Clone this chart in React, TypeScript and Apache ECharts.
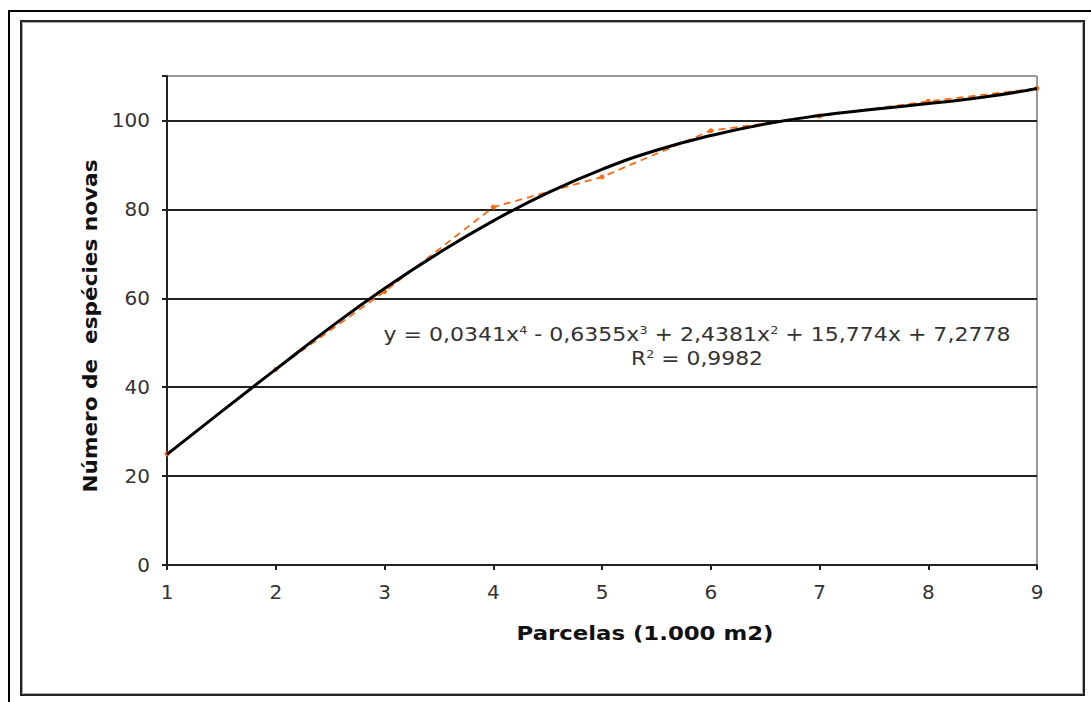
import React, { useEffect, useRef } from "react";
import * as echarts from "echarts";

const parcelas = [1, 2, 3, 4, 5, 6, 7, 8, 9];
const especies = [25, 44, 61.5, 80.5, 87.3, 97.7, 101, 104.3, 107.2];

// Trend curve (black polynomial line)
const trendX = [1, 1.5, 2, 2.5, 3, 3.5, 4, 4.5, 5, 5.5, 6, 6.5, 7, 7.5, 8, 8.5, 9];
const trendY = [24.9, 34.5, 44.0, 53.4, 62.2, 70.2, 77.4, 83.7, 89.0, 93.3, 96.6, 99.2, 101.1, 102.5, 103.8, 105.2, 107.2];

const yTicks = [0, 20, 40, 60, 80, 100];
const xTitle = "Parcelas (1.000 m2)";
const yTitle = "Número de  espécies novas";

export default function App() {
  const ref = useRef<HTMLDivElement>(null);
  useEffect(() => {
    if (!ref.current) return;
    const chart = echarts.init(ref.current, null, { renderer: "svg" });
    const font = "DejaVu Sans, Verdana, sans-serif";
    chart.setOption({
      animation: false,
      backgroundColor: "#ffffff",
      grid: { left: 167, top: 76, right: 54, bottom: 137, show: false },
      xAxis: {
        type: "value",
        min: 1,
        max: 9,
        interval: 1,
        axisLine: { show: true, lineStyle: { color: "#222", width: 2 } },
        axisTick: { show: true, length: 5, lineStyle: { color: "#222", width: 2 } },
        axisLabel: { margin: 17, fontSize: 20, color: "#333", fontFamily: font },
        splitLine: { show: false },
      },
      yAxis: {
        type: "value",
        min: 0,
        max: 110,
        interval: 20,
        axisLine: { show: true, lineStyle: { color: "#222", width: 2 } },
        axisTick: { show: true, length: 5, lineStyle: { color: "#222", width: 2 } },
        axisLabel: {
          margin: 17,
          fontSize: 20,
          color: "#333",
          fontFamily: font,
          formatter: (v: number) => (yTicks.indexOf(v) >= 0 ? String(v) : ""),
        },
        splitLine: {
          show: true,
          lineStyle: {
            color: ["#222", "#222", "#222", "#222", "#222", "#222", "#999"],
            width: 2,
          },
        },
      },
      series: [
        {
          type: "line",
          data: parcelas.map((x, i) => [x, especies[i]]),
          symbol: "circle",
          symbolSize: 5,
          itemStyle: { color: "#ff6a10" },
          lineStyle: { color: "#ff6a10", width: 1.8, type: [7, 5] },
          z: 2,
        },
        {
          type: "line",
          data: trendX.map((x, i) => [x, trendY[i]]),
          smooth: true,
          symbol: "none",
          lineStyle: { color: "#000", width: 3 },
          z: 3,
        },
      ],
      graphic: [
        {
          type: "rect",
          shape: { x: 9, y: 11, width: 1200, height: 800 },
          style: { fill: "none", stroke: "#000", lineWidth: 2 },
          silent: true,
        },
        {
          type: "rect",
          shape: { x: 21, y: 21, width: 1063, height: 674 },
          style: { fill: "none", stroke: "#222", lineWidth: 2 },
          silent: true,
        },
        {
          type: "rect",
          shape: { x: 22.5, y: 22.5, width: 1060, height: 671 },
          style: { fill: "none", stroke: "#aaa", lineWidth: 1 },
          silent: true,
        },
        {
          type: "line",
          shape: { x1: 1037, y1: 76, x2: 1037, y2: 565 },
          style: { stroke: "#999", lineWidth: 2 },
          silent: true,
        },
        {
          type: "text",
          x: 645,
          y: 633,
          scaleX: 1.14,
          style: {
            text: xTitle,
            fontSize: 20,
            fontWeight: "bold",
            fontFamily: font,
            fill: "#111",
            align: "center",
            verticalAlign: "middle",
          },
        },
        {
          type: "text",
          x: 90,
          y: 326,
          rotation: Math.PI / 2,
          scaleX: 1.08,
          style: {
            text: yTitle,
            fontSize: 20,
            fontWeight: "bold",
            fontFamily: font,
            fill: "#111",
            align: "center",
            verticalAlign: "middle",
          },
        },
        {
          type: "text",
          x: 697,
          y: 335,
          scaleX: 1.16,
          style: {
            text:
              "y = 0,0341x{s|4} - 0,6355x{s|3} + 2,4381x{s|2} + 15,774x + 7,2778",
            fontSize: 19,
            fontFamily: font,
            fill: "#333",
            align: "center",
            verticalAlign: "middle",
            rich: {
              s: { fontSize: 11, fontFamily: font, fill: "#333", verticalAlign: "top", padding: [0, 0, 10, 0] },
            },
          },
        },
        {
          type: "text",
          x: 697,
          y: 359,
          scaleX: 1.15,
          style: {
            text: "R{s|2} = 0,9982",
            fontSize: 19,
            fontFamily: font,
            fill: "#333",
            align: "center",
            verticalAlign: "middle",
            rich: {
              s: { fontSize: 11, fontFamily: font, fill: "#333", verticalAlign: "top", padding: [0, 0, 10, 0] },
            },
          },
        },
      ],
    });
    return () => chart.dispose();
  }, []);
  return (
    <div
      ref={ref}
      style={{ position: "fixed", left: 0, top: 0, width: 1091, height: 702 }}
    />
  );
}
